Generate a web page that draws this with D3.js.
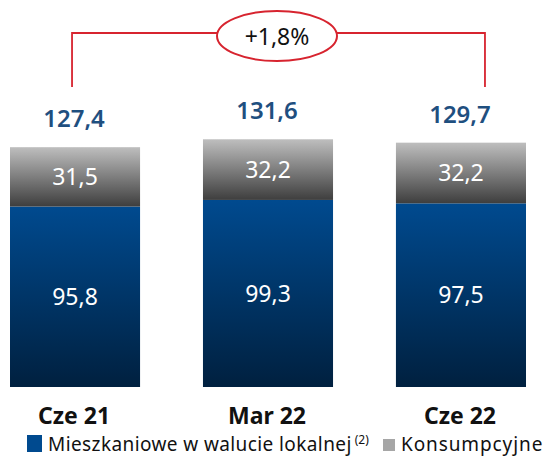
<!DOCTYPE html>
<html>
<head>
<meta charset="utf-8">
<script src="https://cdn.jsdelivr.net/npm/d3@7"></script>
<style>
  body { margin: 0; background: #fff; }
  text { font-family: "Noto Sans", "Open Sans", sans-serif; }
</style>
</head>
<body>
<script>
// data
var categories = ["Cze 21", "Mar 22", "Cze 22"];
var mieszkaniowe = [95.8, 99.3, 97.5];
var konsumpcyjne = [31.5, 32.2, 32.2];
var totals = [127.4, 131.6, 129.7];
var growthLabel = "+1,8%";

var width = 547, height = 456;
var baseY = 387;

var svg = d3.select("body").append("svg")
    .attr("width", width)
    .attr("height", height);

var defs = svg.append("defs");
var gBlue = defs.append("linearGradient").attr("id", "gBlue")
    .attr("x1", 0).attr("y1", 0).attr("x2", 0).attr("y2", 1);
gBlue.append("stop").attr("offset", "0%").attr("stop-color", "#004a8f");
gBlue.append("stop").attr("offset", "100%").attr("stop-color", "#00203f");
var gGray = defs.append("linearGradient").attr("id", "gGray")
    .attr("x1", 0).attr("y1", 0).attr("x2", 0).attr("y2", 1);
gGray.append("stop").attr("offset", "0%").attr("stop-color", "#bebebe");
gGray.append("stop").attr("offset", "100%").attr("stop-color", "#3e3e3e");

var x = d3.scaleBand()
    .domain(categories)
    .range([10, 526])
    .paddingInner(0.326)
    .paddingOuter(0);

var y = d3.scaleLinear()
    .domain([0, 127.4])
    .range([baseY, 147]);

function fmt(v) { return d3.format(".1f")(v).replace(".", ","); }

var g = svg.selectAll(".bar").data(categories).enter().append("g").attr("class", "bar");

// blue segment
g.append("rect")
    .attr("x", function (d) { return x(d); })
    .attr("width", x.bandwidth())
    .attr("y", function (d, i) { return y(mieszkaniowe[i]); })
    .attr("height", function (d, i) { return baseY - y(mieszkaniowe[i]); })
    .style("fill", "url(#gBlue)");

// gray segment
g.append("rect")
    .attr("x", function (d) { return x(d); })
    .attr("width", x.bandwidth())
    .attr("y", function (d, i) { return y(mieszkaniowe[i] + konsumpcyjne[i]); })
    .attr("height", function (d, i) { return y(mieszkaniowe[i]) - y(mieszkaniowe[i] + konsumpcyjne[i]); })
    .style("fill", "url(#gGray)");

// inner labels
g.append("text")
    .attr("x", function (d) { return x(d) + x.bandwidth() / 2; })
    .attr("y", function (d, i) { return (y(mieszkaniowe[i]) + baseY) / 2; })
    .attr("dy", "0.35em")
    .attr("text-anchor", "middle")
    .style("fill", "#fff").style("font-size", "23px")
    .text(function (d, i) { return fmt(mieszkaniowe[i]); });

g.append("text")
    .attr("x", function (d) { return x(d) + x.bandwidth() / 2; })
    .attr("y", function (d, i) { return (y(mieszkaniowe[i]) + y(mieszkaniowe[i] + konsumpcyjne[i])) / 2; })
    .attr("dy", "0.35em")
    .attr("text-anchor", "middle")
    .style("fill", "#fff").style("font-size", "23px")
    .text(function (d, i) { return fmt(konsumpcyjne[i]); });

// totals
g.append("text")
    .attr("x", function (d) { return x(d) + x.bandwidth() / 2 - 1; })
    .attr("y", function (d, i) { return y(totals[i]) - 28; })
    .attr("dy", "0.35em")
    .attr("text-anchor", "middle")
    .style("fill", "#1f4f7f").style("font-size", "24px").style("font-weight", "600")
    .text(function (d, i) { return fmt(totals[i]); });

// category labels
g.append("text")
    .attr("x", function (d) { return x(d) + x.bandwidth() / 2 - 1; })
    .attr("y", 424)
    .attr("text-anchor", "middle")
    .style("fill", "#111").style("font-size", "23px").style("font-weight", "bold")
    .text(function (d) { return d; });

// growth bracket
var xl = x(categories[0]) + x.bandwidth() / 2 - 3,
    xr = x(categories[2]) + x.bandwidth() / 2 + 24,
    yb = 33, ye = 87;
svg.append("path")
    .attr("d", "M" + xl + "," + ye + "V" + yb + "H" + xr + "V" + ye)
    .style("fill", "none").style("stroke", "#d7242f").style("stroke-width", 1.8);
svg.append("ellipse")
    .attr("cx", 277).attr("cy", 36).attr("rx", 60).attr("ry", 25)
    .style("fill", "#fff").style("stroke", "#d7242f").style("stroke-width", 2);
svg.append("text")
    .attr("x", 277).attr("y", 37).attr("dy", "0.35em")
    .attr("text-anchor", "middle")
    .style("font-size", "23px").style("fill", "#111")
    .text(growthLabel);

// legend
var leg = svg.append("g").attr("transform", "translate(0,451)");
leg.append("rect").attr("x", 27).attr("y", -16).attr("width", 15).attr("height", 17).style("fill", "#004a8f");
var t1 = leg.append("text").attr("x", 48).attr("y", 0)
    .style("font-size", "19px").style("fill", "#111").style("letter-spacing", "0.4px");
t1.append("tspan").text("Mieszkaniowe w walucie lokalnej");
t1.append("tspan").attr("dx", 3).attr("dy", -7).style("font-size", "12px").style("letter-spacing", "0").text("(2)");
leg.append("rect").attr("x", 383).attr("y", -12).attr("width", 12).attr("height", 12).style("fill", "#a6a6a6");
leg.append("text").attr("x", 401).attr("y", 0)
    .style("font-size", "19px").style("fill", "#111").style("letter-spacing", "0.9px")
    .text("Konsumpcyjne");
</script>
</body>
</html>
